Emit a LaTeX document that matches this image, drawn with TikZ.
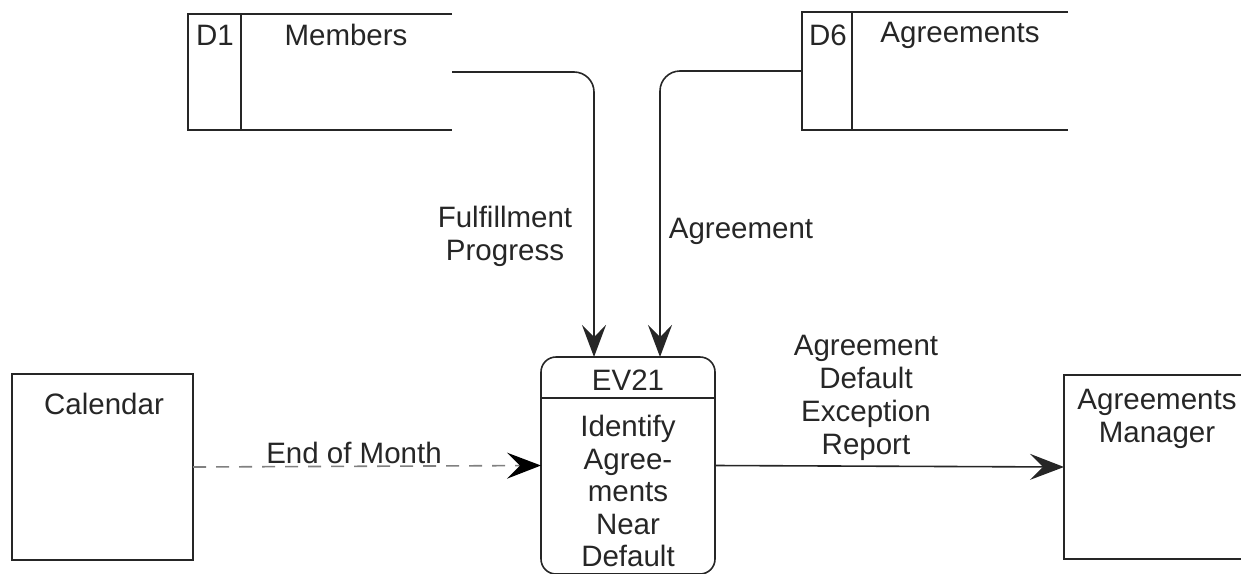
\documentclass[tikz,border=0pt]{standalone}
\usepackage{fontspec}
\setmainfont{Liberation Sans}
\usetikzlibrary{arrows.meta,calc}
\begin{document}
\begin{tikzpicture}[x=1pt,y=-1pt,
  every node/.style={font=\fontsize{29.5}{33}\selectfont, inner sep=0pt, outer sep=0pt},
  ln/.style={line width=1.6pt, black!85},
  tip/.style={-{Stealth[length=32pt,width=24pt,inset=12pt]}},
  flow/.style={ln, tip},
  dflow/.style={line width=1.6pt, black!50, dash pattern=on 13pt off 10pt, -{Stealth[length=34pt,width=26pt,inset=13pt,black]}},
  entity/.style={draw, ln, minimum width=181pt, minimum height=186pt},
  txt/.style={align=center, text=black!85}
]
\useasboundingbox (0,0) rectangle (1241,573);

% Data stores
\node[minimum width=264pt, minimum height=116pt] (d1) at (320,72) {};
\draw[ln] (d1.north east) -- (d1.north west) -- (d1.south west) -- (d1.south east);
\draw[ln] (241,14) -- (241,130);
\node[txt] (d1id) at (215,35) {D1};
\node[txt] (d1n) at (346,35) {Members};

\node[minimum width=266pt, minimum height=118pt] (d6) at (935,71) {};
\draw[ln] (d6.north east) -- (d6.north west) -- (d6.south west) -- (d6.south east);
\draw[ln] (852,12) -- (852,130);
\node[txt] (d6id) at (828,35) {D6};
\node[txt] (d6n) at (960,35) {Agreements};

% Process
\node[draw, ln, rounded corners=15pt, minimum width=174pt, minimum height=217pt] (ev) at (628,465.5) {};
\draw[ln] (ev.west |- 0,398) -- (ev.east |- 0,398);
\node[txt] (evid) at (628,380) {EV21};
\node[txt, font=\fontsize{29.5}{32.5}\selectfont] (evn) at (628,491) {Identify\\Agree-\\ments\\Near\\Default};

% Entities
\node[entity] (cal) at (102.5,467) {};
\node[txt] (caln) at (104,404) {Calendar};
\node[entity, minimum width=200pt, minimum height=184pt] (mgr) at (1164,467) {};
\node[txt] (mgrn) at (1157,419) {Agreements\\Manager};

% Flows
\draw[flow, rounded corners=20pt] (d1.east) -| ($(ev.north)+(-34,0)$);
\draw[flow, rounded corners=20pt] (d6.west) -| ($(ev.north)+(32,0)$);
\draw[dflow] (cal.east) -- (ev.west);
\draw[flow, -{Stealth[length=34pt,width=26pt,inset=13pt]}] (ev.east) -- (mgr.west);

% Labels
\node[txt] (l1) at (505,236) {Fulfillment\\Progress};
\node[txt] (l2) at (741,231) {Agreement};
\node[txt] (l3) at (354,453) {End of Month};
\node[txt] (l4) at (866,398) {Agreement\\Default\\Exception\\Report};
\end{tikzpicture}
\end{document}
